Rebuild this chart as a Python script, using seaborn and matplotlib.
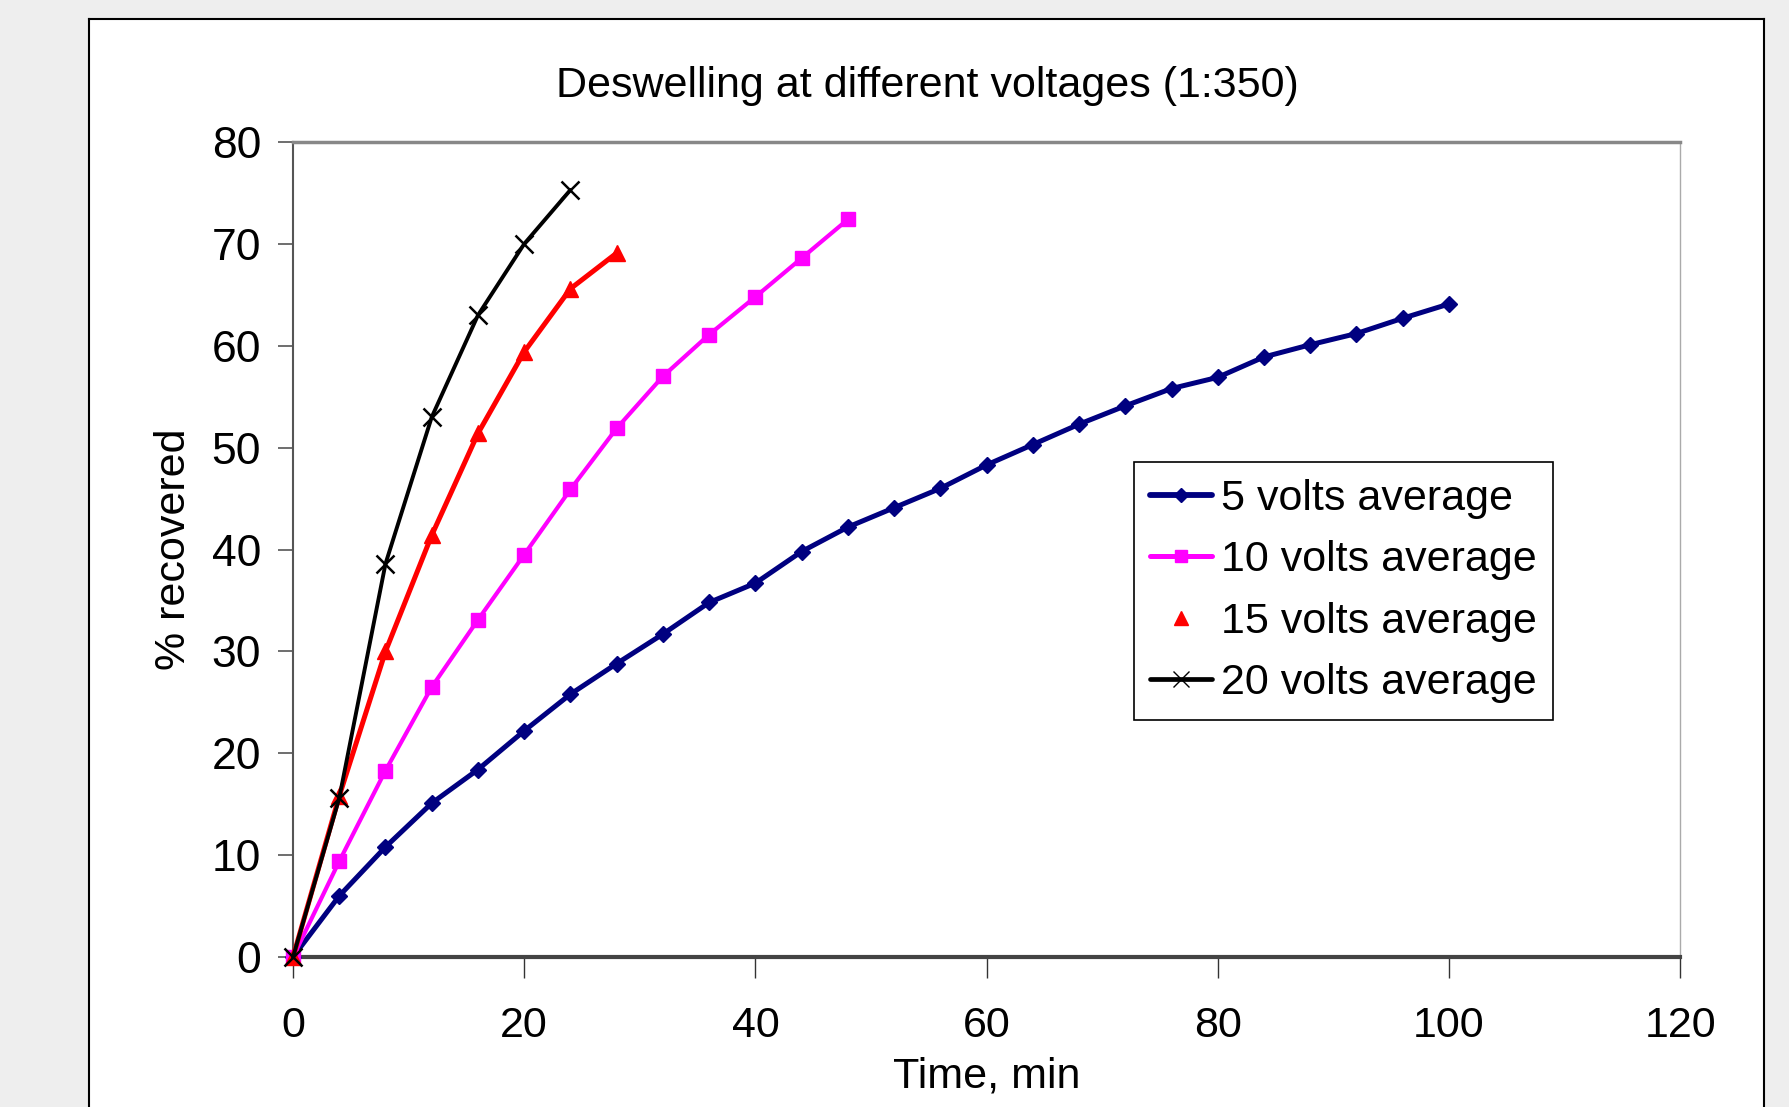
import matplotlib
matplotlib.use('Agg')
import numpy as np
import pandas as pd
import matplotlib.pyplot as plt
import seaborn as sns
from matplotlib.lines import Line2D

# data (time in min, % recovered)
time_5v = [0, 4, 8, 12, 16, 20, 24, 28, 32, 36, 40, 44, 48, 52, 56, 60, 64, 68, 72, 76, 80, 84, 88, 92, 96, 100]
rec_5v = [0, 6.0, 10.8, 15.1, 18.4, 22.2, 25.8, 28.8, 31.7, 34.8, 36.7, 39.8, 42.2, 44.1, 46.0, 48.3, 50.3, 52.3,
          54.1, 55.8, 56.9, 58.9, 60.1, 61.2, 62.7, 64.1]
time_10v = [0, 4, 8, 12, 16, 20, 24, 28, 32, 36, 40, 44, 48]
rec_10v = [0, 9.4, 18.3, 26.5, 33.1, 39.5, 45.9, 51.9, 57.0, 61.1, 64.8, 68.6, 72.4]
time_15v = [0, 4, 8, 12, 16, 20, 24, 28]
rec_15v = [0, 15.8, 30.0, 41.4, 51.4, 59.4, 65.6, 69.1]
time_20v = [0, 4, 8, 12, 16, 20, 24]
rec_20v = [0, 15.6, 38.6, 53.0, 63.0, 70.0, 75.3]

labels = ['5 volts average', '10 volts average', '15 volts average', '20 volts average']
colors = ['#000080', '#FF00FF', '#FF0000', '#000000']
markers = ['D', 's', '^', 'x']
msizes = [8.5, 9.5, 12, 13]
lwidths = [3.6, 3.0, 3.6, 2.8]

series = [(time_5v, rec_5v), (time_10v, rec_10v), (time_15v, rec_15v), (time_20v, rec_20v)]

sns.set_style('white')
plt.rcParams['font.family'] = ['Liberation Sans', 'DejaVu Sans']
plt.rcParams['text.color'] = 'black'
plt.rcParams['axes.labelcolor'] = 'black'
plt.rcParams['xtick.color'] = 'black'
plt.rcParams['ytick.color'] = 'black'

fig = plt.figure(figsize=(17.9, 11.07), dpi=100, facecolor='#eeeeee')

# white chart frame behind the plot
bg = fig.add_axes([0.0497, -0.05, 0.9358, 1.033], zorder=0)
bg.set_facecolor('white')
bg.set_xticks([])
bg.set_yticks([])
for s in bg.spines.values():
    s.set_color('black')
    s.set_linewidth(1.5)

ax = fig.add_axes([0.1637, 0.1355, 0.7749, 0.7362], zorder=1)
ax.set_facecolor('white')

for (t, r), lab, c, m, ms, lw in zip(series, labels, colors, markers, msizes, lwidths):
    df = pd.DataFrame({'time': t, 'rec': r})
    sns.lineplot(data=df, x='time', y='rec', ax=ax, color=c, marker=m, markersize=ms,
                 linewidth=lw, markeredgecolor=c, markeredgewidth=1.8 if m == 'x' else 1,
                 clip_on=False, zorder=3)

ax.set_xlim(0, 120)
ax.set_ylim(0, 80)
ax.set_xticks(np.arange(0, 121, 20))
ax.set_yticks(np.arange(0, 81, 10))
ax.tick_params(axis='x', labelsize=31, length=15, width=1, direction='out', pad=20, color='#333333')
ax.tick_params(axis='y', labelsize=32, length=11, width=1.2, direction='out', pad=12, color='#555555')
ax.tick_params(bottom=True, left=True)

ax.spines['left'].set_color('#555555')
ax.spines['left'].set_linewidth(1.5)
ax.spines['bottom'].set_color('#444444')
ax.spines['bottom'].set_linewidth(3)
ax.spines['top'].set_color('#888888')
ax.spines['top'].set_linewidth(2.5)
ax.spines['right'].set_color('#aaaaaa')
ax.spines['right'].set_linewidth(1)

ax.set_xlabel('Time, min', fontsize=31, labelpad=8)
ax.set_ylabel('% recovered', fontsize=31, labelpad=13)
fig.text(0.518, 0.922, 'Deswelling at different voltages (1:350)', fontsize=31, ha='center', va='center')

handles = []
for lab, c, m, ms, lw in zip(labels, colors, markers, msizes, lwidths):
    ls = 'none' if lab.startswith('15') else '-'
    handles.append(Line2D([], [], color=c, marker=m, markersize=ms * 0.85, linewidth=lw + 0.6,
                          linestyle=ls, markeredgecolor=c))
leg = ax.legend(handles, labels, loc='upper left', bbox_to_anchor=(0.606, 0.607), fontsize=31,
                frameon=True, fancybox=False, edgecolor='black', framealpha=1, handlelength=1.45,
                handletextpad=0.2, labelspacing=0.5, borderpad=0.38, borderaxespad=0)
leg.get_frame().set_linewidth(1.2)

fig.savefig('out.png', dpi=100, facecolor=fig.get_facecolor())
